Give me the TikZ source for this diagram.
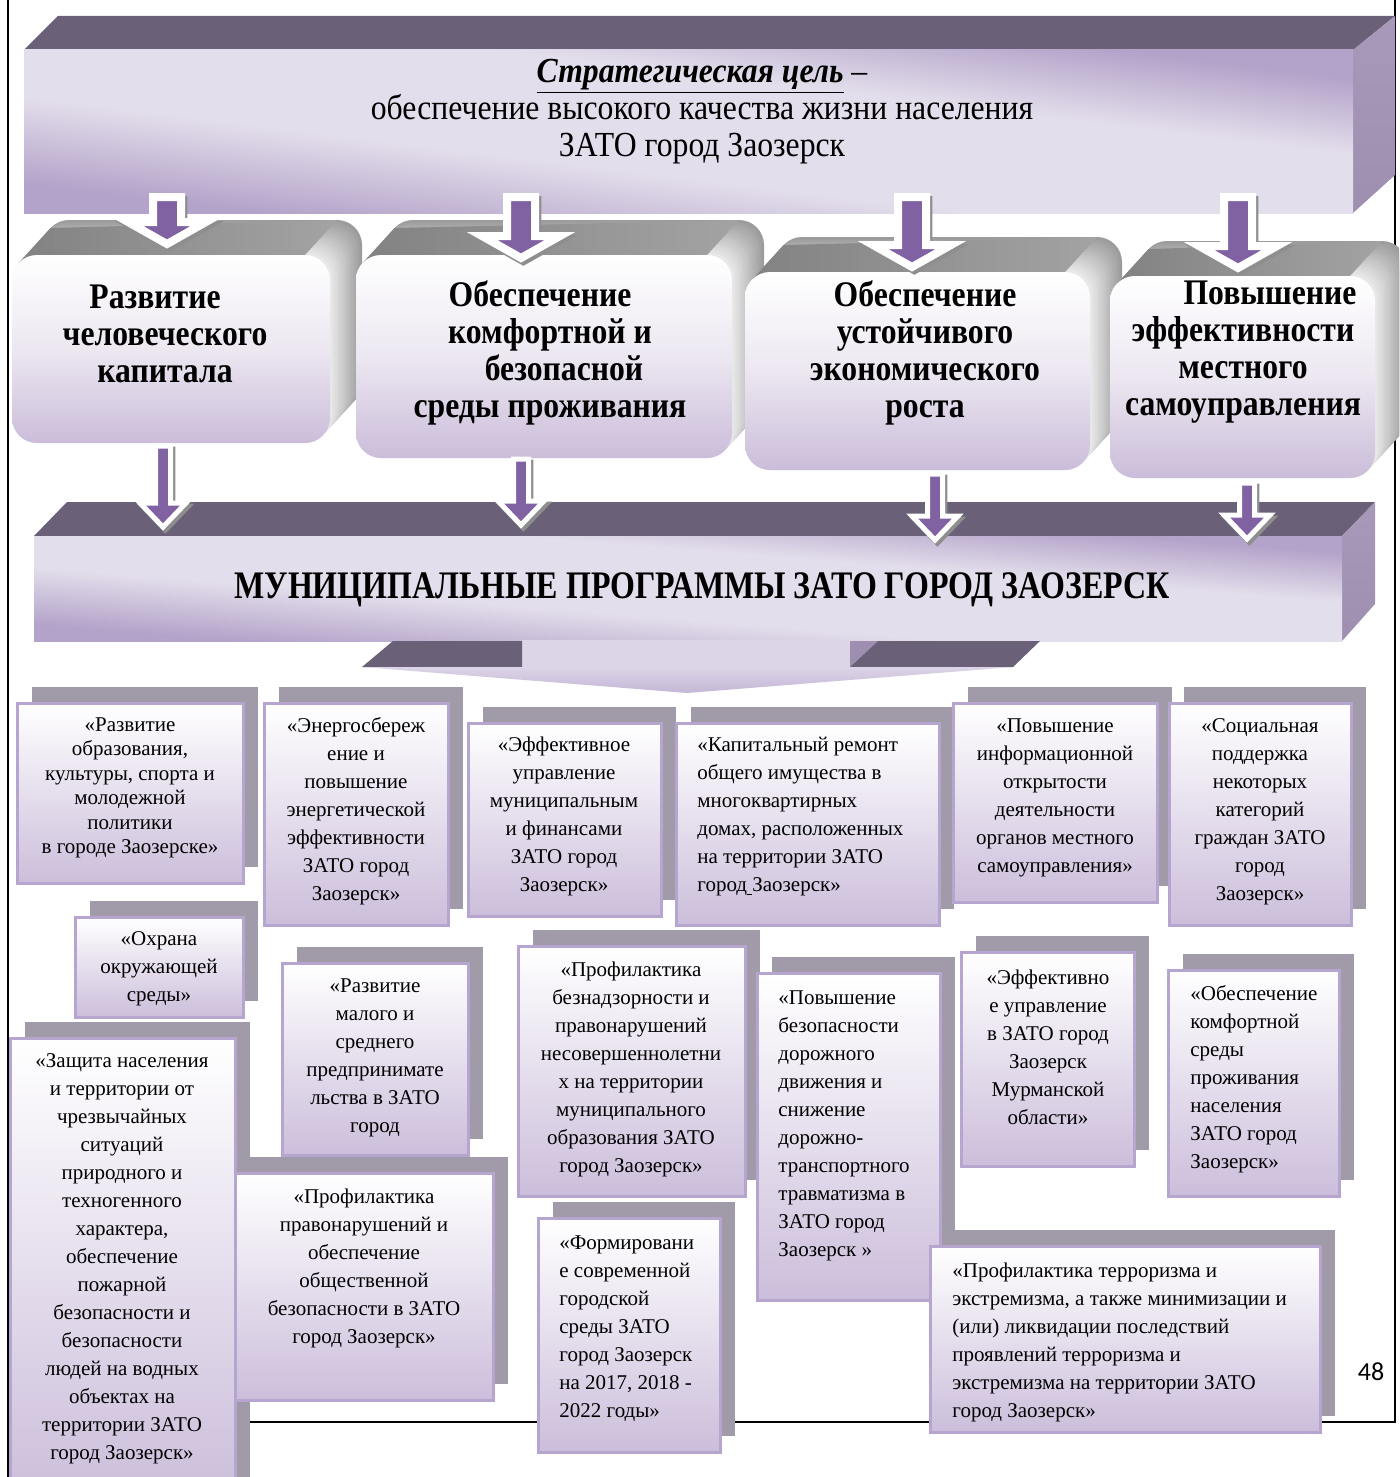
\documentclass[tikz,border=0pt]{standalone}
\usepackage{fontspec}
\setmainfont{Liberation Serif}
\newfontfamily\condfont[FakeStretch=0.82]{Liberation Serif}
\newfontfamily\headfont[FakeStretch=0.88]{Liberation Serif}
\newfontfamily\goalfont[FakeStretch=0.9]{Liberation Serif}
\newfontfamily\numfont{Carlito}
\usetikzlibrary{calc}
\definecolor{slabdark}{HTML}{6A6077}
\definecolor{slabside}{HTML}{9E8FB0}
\definecolor{slabsidelt}{HTML}{A898BA}
\definecolor{slablight}{HTML}{E3DEEB}
\definecolor{slabpurple}{HTML}{B3A2C9}
\definecolor{l2dark}{HTML}{9C9C9C}
\definecolor{l2light}{HTML}{EFEFEF}
\definecolor{l2top}{HTML}{999999}
\definecolor{l2mid}{HTML}{ECE7F1}
\definecolor{l2lav}{HTML}{CBBDDA}
\definecolor{plav}{HTML}{CCBEDB}
\definecolor{pborder}{HTML}{B6A5CE}
\definecolor{pshadow}{HTML}{A09AA9}
\definecolor{arrpurple}{HTML}{8061A2}
\definecolor{arrshadow}{HTML}{8E8E8E}
\definecolor{headlt}{HTML}{DCD4E7}
\definecolor{headdk}{HTML}{C4B6D6}
\pgfdeclareverticalshading{slabsh}{100bp}{color(0bp)=(slabpurple); color(27bp)=(slabpurple); color(42bp)=(slablight); color(60bp)=(slablight); color(73bp)=(slabpurple); color(100bp)=(slabpurple)}

\newcommand\blockarrow[6]{%
 \path[arrshad, line width=#6] let \p1=(#1), \p2=(#2) in
  (\x1-#3,\y1) -- (\x1+#3,\y1) -- (\x1+#3,\y2+#5) -- (\x1+#4,\y2+#5) -- (\x1,\y2) -- (\x1-#4,\y2+#5) -- (\x1-#3,\y2+#5) -- cycle;
 \path[arrmain, line width=#6] let \p1=(#1), \p2=(#2) in
  (\x1-#3,\y1) -- (\x1+#3,\y1) -- (\x1+#3,\y2+#5) -- (\x1+#4,\y2+#5) -- (\x1,\y2) -- (\x1-#4,\y2+#5) -- (\x1-#3,\y2+#5) -- cycle;
}
\newcommand\ltwo[4]{%
 \foreach \k [evaluate=\k as \pc using int(100*\k/14)] in {0,...,14}{%
  \fill[l2light!\pc!l2dark, rounded corners=12.5pt] ({#1+32-32*\k/14},{#2-35+35*\k/14}) rectangle ({#3+32-32*\k/14},{#4-35+35*\k/14});
 }%
 \shade[left color=l2top!85!black, right color=l2top!90!white] (#1+6.5,#2+8.1) -- (#1+38.5,#2-26.9) -- (#3+7,#2-35) -- (#3-25,#2) -- cycle;
 \shade[top color=white, bottom color=l2lav, middle color=l2mid, rounded corners=12.5pt] (#1,#2) rectangle (#3,#4);
}
\newcommand\pbox[9]{%
 \fill[pshadow] (#2+15,#3-16) rectangle (#4+15,#5-16);
 \shade[pfront] (#2,#3) rectangle (#4,#5);
 \node[ptext,#8] (#1) at (#6,#7) {#9};
}

\begin{document}
\begin{tikzpicture}[x=0.5pt,y=-0.5pt,
 goaltext/.style={align=center, inner sep=0pt, font=\goalfont\fontsize{17.6}{18.5}\selectfont},
 l2text/.style={align=center, inner sep=0pt, font=\headfont\bfseries\fontsize{18}{18.5}\selectfont},
 progtext/.style={inner sep=0pt, font=\condfont\bfseries\fontsize{19.5}{20}\selectfont},
 ptext/.style={inner sep=0pt, font=\fontsize{10.5}{14}\selectfont},
 pc/.style={anchor=center, align=center},
 pl/.style={anchor=west, align=left},
 pfront/.style={top color=white, bottom color=plav, draw=pborder, line width=1.5pt},
 arrmain/.style={fill=arrpurple, draw=white, line join=miter},
 arrshad/.style={fill=arrshadow, draw=arrshadow, line join=miter, transform canvas={xshift=1.2pt,yshift=-1.6pt}}
]
\useasboundingbox (0,0) rectangle (1399,1477);
\clip (0,0) rectangle (1399,1477);
\fill[white] (0,0) rectangle (1399,1477);

% page frame
\draw[line width=1pt] (8,0) -- (8,1477);
\draw[line width=1pt] (1395,0) -- (1395,1422) -- (8,1422);

% top slab
\fill[slabdark] (58,16) -- (1395,16) -- (1353,50) -- (24,50) -- cycle;
\shade[top color=slabsidelt, bottom color=slabside] (1353,50) -- (1395,16) -- (1395,175) -- (1353,213) -- cycle;
\shade[shading=slabsh, shading angle=-7] (24,50) rectangle (1353,213);
\node[goaltext] (goal) at (702,111.5) {\underline{\textbf{\textit{Стратегическая цель}}} –\\обеспечение высокого качества жизни населения\\ЗАТО город Заозерск};

% level-2 boxes
\ltwo{12}{255}{330}{443}
\ltwo{356}{255}{732}{458}
\ltwo{745}{272}{1090}{470}
\ltwo{1110}{276}{1375}{478}
\node[l2text] (dir1) at (165,334) {Развитие\hspace*{10pt}\\человеческого\\капитала};
\node[l2text] (dir2) at (550,352.5) {Обеспечение\hspace*{10pt}\\комфортной и\\\hspace*{14pt}безопасной\\среды проживания};
\node[l2text] (dir3) at (925,352.5) {Обеспечение\\устойчивого\\экономического\\роста};
\node[l2text] (dir4) at (1243,352.5) {\hspace*{27pt}Повышение\\эффективности\\местного\hspace*{18pt}\\самоуправления};

% top arrows
\coordinate (a1s) at (167,197); \coordinate (a1e) at (167,244);
\coordinate (a2s) at (521,197); \coordinate (a2e) at (521,258);
\coordinate (a3s) at (912,197); \coordinate (a3e) at (912,267);
\coordinate (a4s) at (1238,197); \coordinate (a4e) at (1238,268);
\blockarrow{a1s}{a1e}{7pt}{19.5pt}{11pt}{4pt}
\blockarrow{a2s}{a2e}{7pt}{19.5pt}{11pt}{4pt}
\blockarrow{a3s}{a3e}{7pt}{19.5pt}{11pt}{4pt}
\blockarrow{a4s}{a4e}{7pt}{19.5pt}{11pt}{4pt}

% programs slab
\fill[slabdark] (67,502) -- (1375,502) -- (1342,536) -- (34,536) -- cycle;
\shade[top color=slabsidelt, bottom color=slabside] (1342,536) -- (1375,502) -- (1375,604) -- (1342,641) -- cycle;
\shade[shading=slabsh, shading angle=-4.6] (34,536) rectangle (1342,641);
\node[progtext] (prog) at (702,590) {МУНИЦИПАЛЬНЫЕ ПРОГРАММЫ ЗАТО ГОРОД ЗАОЗЕРСК};

% big arrow under the slab
\fill[headlt] (522,640) rectangle (850,668);
\fill[slabdark] (393,641) -- (522,641) -- (522,667) -- (362,667) -- cycle;
\fill[slabdark] (850,641) -- (1040,641) -- (1013,667) -- (850,667) -- cycle;
\fill[slabside] (850,641) -- (878,641) -- (850,667) -- cycle;
\shade[top color=headlt, bottom color=headdk] (362,667) -- (1013,667) -- (687,693) -- cycle;

% lower arrows
\coordinate (b1s) at (163,446); \coordinate (b1e) at (163,527);
\coordinate (b2s) at (521,459); \coordinate (b2e) at (521,525);
\coordinate (b3s) at (935,474); \coordinate (b3e) at (935,540);
\coordinate (b4s) at (1247,483); \coordinate (b4e) at (1247,539);
\blockarrow{b1s}{b1e}{3.75pt}{11.5pt}{12pt}{2.5pt}
\blockarrow{b2s}{b2e}{3.75pt}{11.5pt}{12pt}{2.5pt}
\blockarrow{b3s}{b3e}{3.75pt}{11.5pt}{12pt}{2.5pt}
\blockarrow{b4s}{b4e}{3.75pt}{11.5pt}{12pt}{2.5pt}

% programme boxes
\pbox{p1}{17}{703}{243}{883}{130}{788}{pc,font=\fontsize{10.5}{12.25}\selectfont}{«Развитие\\образования,\\культуры, спорта и\\молодежной\\политики\\в городе Заозерске»}
\pbox{p2}{264}{703}{448}{925}{356}{811.5}{pc}{«Энергосбереж\\ение и\\повышение\\энергетической\\эффективности\\ЗАТО город\\Заозерск»}
\pbox{p3}{468}{723}{661}{916}{564}{816.5}{pc}{«Эффективное\\управление\\муниципальным\\и финансами\\ЗАТО город\\Заозерск»}
\pbox{p4}{676}{723}{939}{925}{697}{816.5}{pl}{«Капитальный ремонт\\общего имущества в\\многоквартирных\\домах, расположенных\\на территории ЗАТО\\город\underline{\ }Заозерск»}
\pbox{p5}{953}{703}{1157}{902}{1055}{797.5}{pc}{«Повышение\\информационной\\открытости\\деятельности\\органов местного\\самоуправления»}
\pbox{p6}{1169}{703}{1351}{925}{1260}{811.5}{pc}{«Социальная\\поддержка\\некоторых\\категорий\\граждан ЗАТО\\город\\Заозерск»}
\pbox{p7}{75}{917}{243}{1017}{159}{969}{pc}{«Охрана\\окружающей\\среды»}
\pbox{p9}{282}{963}{468}{1155}{375}{1057.5}{pc}{«Развитие\\малого и\\среднего\\предпринимате\\льства в ЗАТО\\город}
\pbox{p11}{518}{946}{745}{1196}{631}{1069.5}{pc}{«Профилактика\\безнадзорности и\\правонарушений\\несовершеннолетни\\х на территории\\муниципального\\образования ЗАТО\\город Заозерск»}
\pbox{p13}{757}{973}{940}{1300}{778}{1126}{pl}{«Повышение\\безопасности\\дорожного\\движения и\\снижение\\дорожно-\\транспортного\\травматизма в\\ЗАТО город\\Заозерск »}
\pbox{p14}{961}{952}{1134}{1166}{1048}{1047.5}{pc}{«Эффективно\\е управление\\в ЗАТО город\\Заозерск\\Мурманской\\области»}
\pbox{p15}{1168}{970}{1339}{1196}{1190}{1079.5}{pl}{«Обеспечение\\комфортной\\среды\\проживания\\населения\\ЗАТО город\\Заозерск»}
\pbox{p8}{10}{1038}{235}{1495}{122}{1259}{pc}{«Защита населения\\и территории от\\чрезвычайных\\ситуаций\\природного и\\техногенного\\характера,\\обеспечение\\пожарной\\безопасности и\\безопасности\\людей на водных\\объектах на\\территории ЗАТО\\город Заозерск»}
\pbox{p10}{235}{1173}{493}{1400}{364}{1268.5}{pc}{«Профилактика\\правонарушений и\\обеспечение\\общественной\\безопасности в ЗАТО\\город Заозерск»}
\pbox{p12}{538}{1218}{720}{1452}{559}{1328.5}{pl}{«Формировани\\е современной\\городской\\среды ЗАТО\\город Заозерск\\на 2017, 2018 -\\2022 годы»}
\pbox{p16}{930}{1246}{1320}{1432}{952}{1342}{pl}{«Профилактика терроризма и\\экстремизма, а также минимизации и\\(или) ликвидации последствий\\проявлений терроризма и\\экстремизма на территории ЗАТО\\город Заозерск»}

% page number
\node[inner sep=0pt, font=\numfont\fontsize{13}{13}\selectfont] (pagenum) at (1371,1372) {48};
\end{tikzpicture}
\end{document}
